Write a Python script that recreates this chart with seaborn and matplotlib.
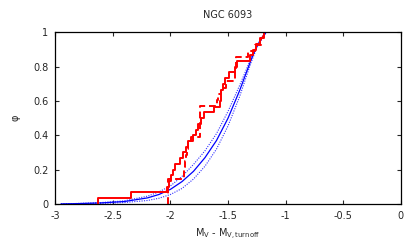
import matplotlib
matplotlib.use("Agg")
import matplotlib.pyplot as plt
import seaborn as sns
import numpy as np
import pandas as pd

# --- data ---
# magnitudes (M_V - M_V,turnoff) of the stars, sorted: solid red sample
solid_mags = [-2.63, -2.345, -2.033, -2.015, -1.998, -1.98, -1.962, -1.92,
              -1.89, -1.865, -1.845, -1.80, -1.78, -1.76, -1.735, -1.712,
              -1.62, -1.57, -1.565, -1.56, -1.545, -1.525, -1.49, -1.44,
              -1.425, -1.31, -1.285, -1.26, -1.225, -1.19]
# dashed red sample
dashed_mags = [-2.02, -2.02, -2.02, -2.02, -1.885, -1.878, -1.871, -1.864,
               -1.857, -1.85, -1.82, -1.745, -1.745, -1.745, -1.745, -1.745,
               -1.60, -1.585, -1.56, -1.52, -1.44, -1.437, -1.434, -1.43,
               -1.33, -1.27, -1.21, -1.195]

# model cumulative curves (blue)
model_x = [-2.95, -2.8, -2.6, -2.4, -2.2, -2.1, -2.0, -1.9, -1.8, -1.7,
           -1.6, -1.5, -1.4, -1.3, -1.25, -1.2, -1.17, 0.0]
model_mid = [0.0, 0.002, 0.006, 0.014, 0.035, 0.055, 0.085, 0.13, 0.19, 0.27,
             0.37, 0.50, 0.66, 0.84, 0.92, 0.975, 1.0, 1.0]
model_hi = [0.0, 0.003, 0.008, 0.018, 0.045, 0.07, 0.105, 0.16, 0.23, 0.31,
            0.41, 0.54, 0.69, 0.85, 0.925, 0.975, 1.0, 1.0]
model_lo = [0.0, 0.001, 0.003, 0.008, 0.02, 0.033, 0.055, 0.09, 0.145, 0.22,
            0.32, 0.455, 0.625, 0.825, 0.91, 0.97, 1.0, 1.0]

x_ticks = [-3, -2.5, -2, -1.5, -1, -0.5, 0]
y_ticks = [0, 0.2, 0.4, 0.6, 0.8, 1]


def ecdf_frame(mags):
    # step curve: start at 0 at the first star, end flat at 1 out to x=0
    m = np.sort(np.asarray(mags))
    frac = np.arange(1, len(m) + 1) / len(m)
    xs = np.r_[m[0], m, 0.0]
    ys = np.r_[0.0, frac, 1.0]
    return pd.DataFrame({"x": xs, "y": ys})


sns.set_style("ticks")
plt.rcParams["font.family"] = ["DejaVu Sans"]
plt.rcParams["axes.unicode_minus"] = False

fig = plt.figure(figsize=(4.15, 2.49), dpi=100)
ax = fig.add_axes([0.133, 0.181, 0.833, 0.689])

# blue model curves
sns.lineplot(x=model_x, y=model_hi, ax=ax, color="#3030ff", lw=0.8,
             linestyle=(0, (1, 1.2)), estimator=None, sort=False)
sns.lineplot(x=model_x, y=model_lo, ax=ax, color="#3030ff", lw=0.8,
             linestyle=(0, (1, 1.2)), estimator=None, sort=False)
sns.lineplot(x=model_x, y=model_mid, ax=ax, color="#0000ff", lw=0.9,
             estimator=None, sort=False)

# red observed cumulative distributions
d_solid = ecdf_frame(solid_mags)
d_dash = ecdf_frame(dashed_mags)
sns.lineplot(data=d_dash, x="x", y="y", ax=ax, color="#ff0000", lw=1.4,
             linestyle=(0, (3.5, 2)), drawstyle="steps-post",
             estimator=None, sort=False)
sns.lineplot(data=d_solid, x="x", y="y", ax=ax, color="#ff0000", lw=1.4,
             drawstyle="steps-post", estimator=None, sort=False)

ax.set_xlim(-3, 0)
ax.set_ylim(0, 1)
ax.set_xticks(x_ticks)
ax.set_xticklabels(["-3", "-2.5", "-2", "-1.5", "-1", "-0.5", "0"])
ax.set_yticks(y_ticks)
ax.set_yticklabels(["0", "0.2", "0.4", "0.6", "0.8", "1"])
ax.tick_params(direction="in", length=3.2, width=0.8, labelsize=7,
               top=True, right=True, pad=5)
for s in ax.spines.values():
    s.set_visible(True)
    s.set_linewidth(0.9)
    s.set_color("black")

ax.set_title("NGC 6093", fontsize=7, pad=10)
ax.set_xlabel("M$_\\mathrm{V}$ - M$_\\mathrm{V,turnoff}$", fontsize=7, labelpad=4)
ax.set_ylabel("φ", fontsize=7, labelpad=9)

fig.savefig("out.png", dpi=100)
